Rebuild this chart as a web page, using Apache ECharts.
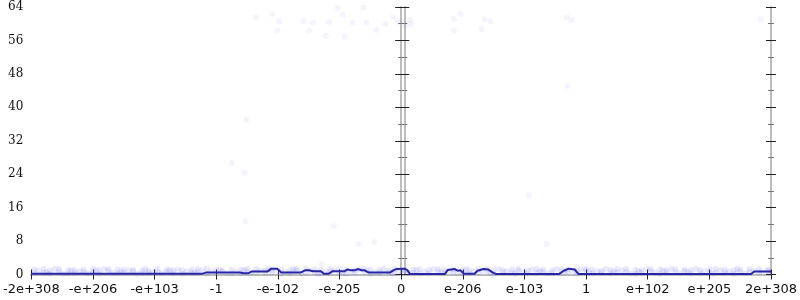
<!DOCTYPE html>
<html><head><meta charset="utf-8">
<script src="https://cdn.jsdelivr.net/npm/echarts@6/dist/echarts.min.js"></script>
<style>html,body{margin:0;padding:0;background:#fff}#c{width:800px;height:300px}</style>
</head><body><div id="c"></div>
<script>
const xTickLabels = ['-2e+308','-e+206','-e+103','-1','-e-102','-e-205','0','e-206','e-103','1','e+102','e+205','2e+308'];

// dark line (x in axis units: -6 .. 6, one unit per tick label)
const lineX = [-6.0,-3.233,-3.153,-2.622,-2.557,-2.477,-2.429,-2.171,-2.107,-2.011,-1.946,-1.625,-1.560,-1.496,-1.432,-1.303,-1.255,-1.174,-1.110,-0.917,-0.869,-0.820,-0.756,-0.708,-0.643,-0.595,-0.531,-0.177,-0.129,-0.080,0.048,0.097,0.145,0.708,0.756,0.869,0.917,0.965,1.013,1.190,1.239,1.335,1.415,1.480,1.544,2.558,2.638,2.718,2.815,2.879,5.678,5.726,6.0];
const lineY = [0.15,0.15,0.5,0.5,0.3,0.3,0.7,0.7,1.4,1.4,0.5,0.5,1.0,1.0,0.8,0.8,0.2,0.2,0.8,0.8,1.2,1.0,1.0,1.3,1.0,1.0,0.5,0.5,1.0,1.3,1.4,1.1,0.1,0.1,1.1,1.3,0.9,1.0,0.2,0.2,0.9,1.3,1.2,0.5,0.1,0.1,0.9,1.4,1.2,0.1,0.1,0.7,0.7];

// sparse faint points
const ptX = [-2.364,-2.091,-1.978,-2.011,-1.592,-1.496,-1.432,-1.174,-1.222,-1.029,-0.949,-0.917,-0.788,-0.563,-0.611,-0.402,-0.257,-0.129,-0.048,0.064,0.145,0.161,0.853,0.965,0.853,1.351,1.448,1.303,2.686,2.767,2.702,5.839,-2.509,-2.751,-2.541,-2.525,-1.094,-0.692,-0.434,-1.287,2.364,2.847,2.075];
const ptY = [61.6,62.3,60.6,58.3,60.6,58.3,60.2,60.4,57.1,63.8,62.1,56.8,60.2,60.2,63.8,58.5,59.9,61.6,60.4,59.5,60.9,59.9,61.1,62.3,58.3,61.1,60.6,58.7,61.6,60.9,45.1,61.1,37.0,26.7,24.3,12.8,11.6,7.3,7.8,2.5,7.3,1.8,19.0];

// faint band of points near zero
const bandX = [-5.95,-5.8,-5.7,-5.55,-5.4,-5.3,-5.15,-5.0,-4.9,-4.75,-4.6,-4.5,-4.35,-4.2,-4.1,-3.95,-3.8,-3.7,-3.55,-3.4,-3.3,-3.15,-3.0,-2.9,-2.75,-2.6,-2.5,-2.35,-2.2,-2.1,-1.95,-1.8,-1.7,-1.55,-1.4,-1.3,-1.15,-1.0,-0.9,-0.75,-0.6,-0.5,-0.35,-0.2,-0.1,0.05,0.2,0.3,0.45,0.6,0.7,0.85,1.0,1.1,1.25,1.4,1.5,1.65,1.8,1.9,2.05,2.2,2.3,2.45,2.6,2.7,2.85,3.0,3.1,3.25,3.4,3.5,3.65,3.8,3.9,4.05,4.2,4.3,4.45,4.6,4.7,4.85,5.0,5.1,5.25,5.4,5.5,5.65,5.8,5.95];
const bandX2 = [-5.88,-5.75,-5.62,-5.48,-5.35,-5.22,-5.08,-4.95,-4.82,-4.68,-4.55,-4.42,-4.28,-4.15,-4.02,-3.88,-3.75,-3.62,-3.48,-3.35,-3.22,-3.08,-2.95,-2.82,-2.68,-2.55,-2.42,-2.28,-2.15,-2.02,-1.88,-1.75,-1.62,-1.48,-1.35,-1.22,-1.08,-0.95,-0.82,-0.68,-0.55,-0.42,-0.28,-0.15,-0.02,0.12,0.25,0.38,0.52,0.65,0.78,0.92,1.05,1.18,1.32,1.45,1.58,1.72,1.85,1.98,2.12,2.25,2.38,2.52,2.65,2.78,2.92,3.05,3.18,3.32,3.45,3.58,3.72,3.85,3.98,4.12,4.25,4.38,4.52,4.65,4.78,4.92,5.05,5.18,5.32,5.45,5.58,5.72,5.85,5.98];
const bandY1 = [1.2,0.4,0.9,1.3,0.3,1.0,0.6,1.3,0.2,0.8,1.2,0.5,1.1,0.3,0.9,1.3,0.6,1.0,0.2,1.2,0.7,1.3,0.4,0.9,1.1,0.3,1.3,0.6,1.0,0.5,1.2,0.3,0.9,1.3,0.5,1.1,0.7,1.3,0.2,1.0,0.6,1.2,0.4,0.9,1.3,1.1,0.5,1.3,0.3,0.8,1.2,0.6,1.0,0.3,1.3,0.7,1.1,0.4,1.2,0.9,0.3,1.3,0.6,1.0,0.4,1.2,0.8,1.3,0.3,0.9,1.1,0.5,1.3,0.2,1.0,0.7,1.2,0.4,1.3,0.8,0.3,1.1,0.6,1.3,0.4,1.0,1.2,0.5,1.3,0.9];
const bandY2 = [0.5,1.3,0.2,0.7,1.1,0.4,1.2,0.6,1.0,1.3,0.3,1.2,0.7,1.0,0.4,0.6,1.2,0.3,1.1,0.5,1.3,0.2,1.0,0.6,0.3,1.2,0.7,1.3,0.4,1.1,0.2,1.0,1.3,0.4,1.2,0.3,1.3,0.5,1.1,0.4,1.3,0.2,1.1,0.5,0.3,0.6,1.2,0.2,1.1,1.3,0.4,1.2,0.3,1.1,0.5,1.3,0.2,1.0,0.5,1.3,1.0,0.4,1.2,0.3,1.3,0.5,0.2,1.0,1.2,0.4,0.3,1.3,0.6,1.1,0.4,1.3,0.2,1.0,0.6,1.2,1.1,0.3,1.3,0.5,1.1,0.2,0.6,1.3,0.4,1.2];
const bandY3 = [0.9,0.6,1.3,0.2,1.0,0.8,0.3,1.1,1.3,0.4,0.7,1.0,0.2,1.3,0.6,0.3,1.0,1.2,0.7,0.4,1.0,0.8,1.2,0.3,0.7,1.0,0.4,0.9,1.3,0.8,0.6,1.3,0.4,0.9,0.2,0.7,1.0,0.3,0.8,1.2,0.9,0.6,1.3,0.2,0.8,0.4,1.0,0.7,1.3,0.5,0.9,0.3,1.3,0.7,0.9,0.4,1.3,0.7,0.2,0.6,1.2,0.8,0.3,1.3,0.7,0.9,1.2,0.5,0.8,1.3,0.7,1.0,0.3,0.8,1.3,0.5,0.9,1.3,0.3,0.5,1.3,0.7,0.2,1.0,0.8,1.3,0.3,0.9,0.7,0.4];

const GRAY = '#bdbdbd';
const TICK = '#222';
const yBase = {type:'value', min:0, max:64, interval:8, splitLine:{show:false},
  minorTick:{show:true, splitNumber:2, length:3, lineStyle:{color:'#777', width:1}},
  minorSplitLine:{show:false}};
function yAx(extra){ return Object.assign({}, yBase, extra); }

const pts = (xs, ys) => xs.map((x,i)=>[x, ys[i]]);
const BAND = 'rgba(90,90,235,0.16)';

const chart = echarts.init(document.getElementById('c'), null, {renderer:'canvas'});
chart.setOption({
  animation:false,
  grid:{left:28, right:26, top:7, bottom:25.5, containLabel:false},
  xAxis:[
    {type:'value', position:'bottom', min:-6, max:6, interval:1, splitLine:{show:false},
     axisLine:{lineStyle:{color:GRAY, width:2}},
     axisTick:{length:5, lineStyle:{color:TICK}},
     axisLabel:{margin:9, color:'#111', fontFamily:"'DejaVu Sans', sans-serif", fontSize:13,
       formatter:(v)=>xTickLabels[Math.round(v)+6]}},
    {type:'value', position:'bottom', min:-6, max:6, interval:1, splitLine:{show:false},
     axisLine:{show:false}, axisLabel:{show:false},
     axisTick:{inside:true, length:5, lineStyle:{color:TICK}}},
    {type:'value', position:'top', min:-6, max:6, interval:1, splitLine:{show:false},
     axisLine:{lineStyle:{color:GRAY, width:2}}, axisTick:{show:false}, axisLabel:{show:false}}
  ],
  yAxis:[
    yAx({position:'left', axisLine:{show:true, lineStyle:{color:GRAY, width:2}},
      axisTick:{show:true, length:6, lineStyle:{color:TICK}},
      axisLabel:{margin:8, color:'#111', fontFamily:"'DejaVu Serif', 'Liberation Serif', serif", fontSize:12}}),
    yAx({position:'left', axisLine:{show:false}, axisLabel:{show:false},
      axisTick:{show:true, inside:true, length:5, lineStyle:{color:TICK}}}),
    yAx({position:'left', offset:-373, axisLine:{show:true, lineStyle:{color:GRAY, width:2}}, axisLabel:{show:false},
      axisTick:{show:true, length:5, lineStyle:{color:TICK}}}),
    yAx({position:'left', offset:-373, axisLine:{show:false}, axisLabel:{show:false},
      axisTick:{show:true, inside:true, length:5, lineStyle:{color:TICK}}}),
    yAx({position:'right', axisLine:{show:true, lineStyle:{color:GRAY, width:2}}, axisLabel:{show:false},
      axisTick:{show:true, length:5, lineStyle:{color:TICK}}}),
    yAx({position:'right', axisLine:{show:false}, axisLabel:{show:false},
      axisTick:{show:true, inside:true, length:5, lineStyle:{color:TICK}}})
  ],
  series:[
    {type:'scatter', xAxisIndex:0, yAxisIndex:0, symbolSize:6, silent:true,
     itemStyle:{color:BAND}, data:pts(bandX, bandY1)},
    {type:'scatter', xAxisIndex:0, yAxisIndex:0, symbolSize:6, silent:true,
     itemStyle:{color:BAND}, data:pts(bandX, bandY2)},
    {type:'scatter', xAxisIndex:0, yAxisIndex:0, symbolSize:6, silent:true,
     itemStyle:{color:BAND}, data:pts(bandX2, bandY3)},
    {type:'scatter', xAxisIndex:0, yAxisIndex:0, symbolSize:6, silent:true,
     itemStyle:{color:'rgba(80,80,235,0.08)'}, data:pts(ptX, ptY)},
    {type:'line', xAxisIndex:0, yAxisIndex:0, showSymbol:false, symbol:'none', silent:true,
     lineStyle:{color:'#2626a6', width:2}, data:pts(lineX, lineY), z:5}
  ]
});
</script></body></html>
